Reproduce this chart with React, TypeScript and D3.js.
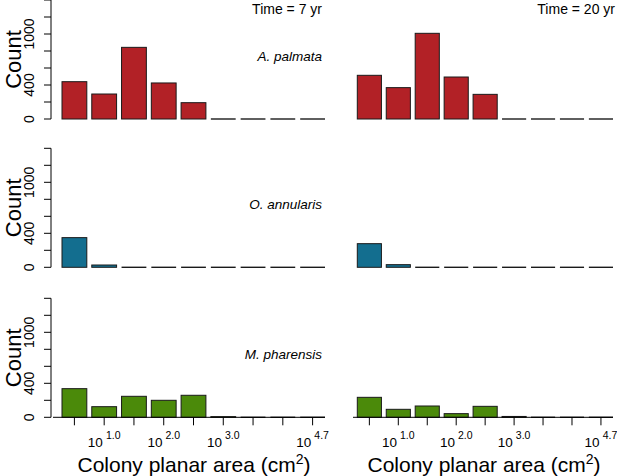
import * as d3 from "d3";
import { useEffect, useRef } from "react";

// size bins (log10 colony area), nine bars per panel
const bins = ["b1", "b2", "b3", "b4", "b5", "b6", "b7", "b8", "b9"];
const binExponents = ["", "1.0", "", "2.0", "", "3.0", "", "", "4.7"];

const species = ["A. palmata", "O. annularis", "M. pharensis"];
const speciesColors = ["#b22126", "#136e8f", "#4b8a0a"];
const times = ["Time = 7 yr", "Time = 20 yr"];

// counts per bin
const palmata7 = [439, 294, 843, 424, 192, 0, 0, 0, 0];
const palmata20 = [514, 369, 1008, 494, 290, 0, 0, 0, 0];
const annularis7 = [349, 27, 0, 0, 0, 0, 0, 0, 0];
const annularis20 = [278, 31, 0, 0, 0, 0, 0, 0, 0];
const pharensis7 = [337, 125, 247, 200, 259, 8, 0, 0, 0];
const pharensis20 = [235, 94, 133, 43, 129, 10, 0, 0, 0];

const yTicks = [0, 200, 400, 600, 800, 1000, 1200, 1400];
const yLabels = [0, 400, 1000];

export default function App() {
  const ref = useRef<SVGSVGElement | null>(null);

  useEffect(() => {
    if (!ref.current) return;
    const svg = d3.select(ref.current);
    svg.selectAll("*").remove();

    const width = 617;
    const height = 476;
    svg.attr("width", width).attr("height", height);

    const font = "'Liberation Sans', Arial, Helvetica, sans-serif";
    const rows = [
      [palmata7, palmata20],
      [annularis7, annularis20],
      [pharensis7, pharensis20],
    ];
    const rowBase = [119, 267.3, 417.3];
    const colRange: [number, number][] = [
      [62, 325],
      [357.3, 613],
    ];
    const axisStart = [53, 353];
    const timeX = [322, 615];
    const xLabelX = [194, 484];

    rows.forEach((pair, r) => {
      const y = d3
        .scaleLinear()
        .domain([0, 1400])
        .range([rowBase[r], rowBase[r] - 119]);

      pair.forEach((values, c) => {
        const x = d3
          .scaleBand<string>()
          .domain(bins)
          .range(colRange[c])
          .paddingInner(1 / 6)
          .paddingOuter(0);
        const bw = x.bandwidth();
        const g = svg.append("g");

        /* ---------- bars ---------- */
        bins.forEach((b, i) => {
          const v = values[i];
          if (v > 0) {
            g.append("rect")
              .attr("x", x(b)!)
              .attr("y", y(v))
              .attr("width", bw)
              .attr("height", y(0) - y(v))
              .attr("fill", speciesColors[r])
              .attr("stroke", "#1a1a1a")
              .attr("stroke-width", 1);
          } else {
            g.append("line")
              .attr("x1", x(b)!)
              .attr("x2", x(b)! + bw)
              .attr("y1", y(0))
              .attr("y2", y(0))
              .attr("stroke", "#1a1a1a")
              .attr("stroke-width", 1.4);
          }
        });

        /* ---------- y axis (left column only) ---------- */
        if (c === 0) {
          const ax = 51;
          g.append("line")
            .attr("x1", ax)
            .attr("x2", ax)
            .attr("y1", y(0))
            .attr("y2", y(1400))
            .attr("stroke", "#000")
            .attr("stroke-width", 1);
          yTicks.forEach((t) => {
            g.append("line")
              .attr("x1", ax)
              .attr("x2", ax - 7)
              .attr("y1", y(t))
              .attr("y2", y(t))
              .attr("stroke", "#000")
              .attr("stroke-width", 1);
          });
          yLabels.forEach((t) => {
            g.append("text")
              .attr("transform", `translate(34, ${y(t)}) rotate(-90)`)
              .attr("text-anchor", "middle")
              .style("font-family", font)
              .style("font-size", "14px")
              .text(String(t));
          });
          g.append("text")
            .attr("transform", `translate(21, ${y(700)}) rotate(-90)`)
            .attr("text-anchor", "middle")
            .style("font-family", font)
            .style("font-size", "22px")
            .text("Count");

          g.append("text")
            .attr("x", 322)
            .attr("y", rowBase[r] - 58)
            .attr("text-anchor", "end")
            .style("font-family", font)
            .style("font-size", "13.5px")
            .style("font-style", "italic")
            .text(species[r]);
        }

        /* ---------- time labels on top row ---------- */
        if (r === 0) {
          g.append("text")
            .attr("x", timeX[c])
            .attr("y", 14)
            .attr("text-anchor", "end")
            .style("font-family", font)
            .style("font-size", "14px")
            .text(times[c]);
        }

        /* ---------- x axis on bottom row ---------- */
        if (r === rows.length - 1) {
          g.append("line")
            .attr("x1", axisStart[c])
            .attr("x2", colRange[c][1])
            .attr("y1", y(0))
            .attr("y2", y(0))
            .attr("stroke", "#000")
            .attr("stroke-width", 1);
          bins.forEach((b, i) => {
            const cx = x(b)! + bw / 2;
            g.append("line")
              .attr("x1", cx)
              .attr("x2", cx)
              .attr("y1", y(0))
              .attr("y2", y(0) + 8)
              .attr("stroke", "#000")
              .attr("stroke-width", 1);
            if (binExponents[i]) {
              const t = g
                .append("text")
                .attr("x", cx)
                .attr("y", 447)
                .attr("text-anchor", "middle")
                .style("font-family", font)
                .style("font-size", "13.5px");
              t.append("tspan").text("10");
              t.append("tspan")
                .attr("dx", 3)
                .attr("dy", -8)
                .style("font-size", "10.5px")
                .text(binExponents[i]);
            }
          });
          const xl = g
            .append("text")
            .attr("x", xLabelX[c])
            .attr("y", 472)
            .attr("text-anchor", "middle")
            .style("font-family", font)
            .style("font-size", "21px");
          xl.append("tspan").text("Colony planar area (cm");
          xl.append("tspan")
            .attr("dy", -8)
            .style("font-size", "14px")
            .text("2");
          xl.append("tspan").attr("dy", 8).text(")");
        }
      });
    });
  }, []);

  return (
    <svg
      ref={ref}
      style={{ position: "absolute", left: 0, top: 0, background: "#fff" }}
    />
  );
}
